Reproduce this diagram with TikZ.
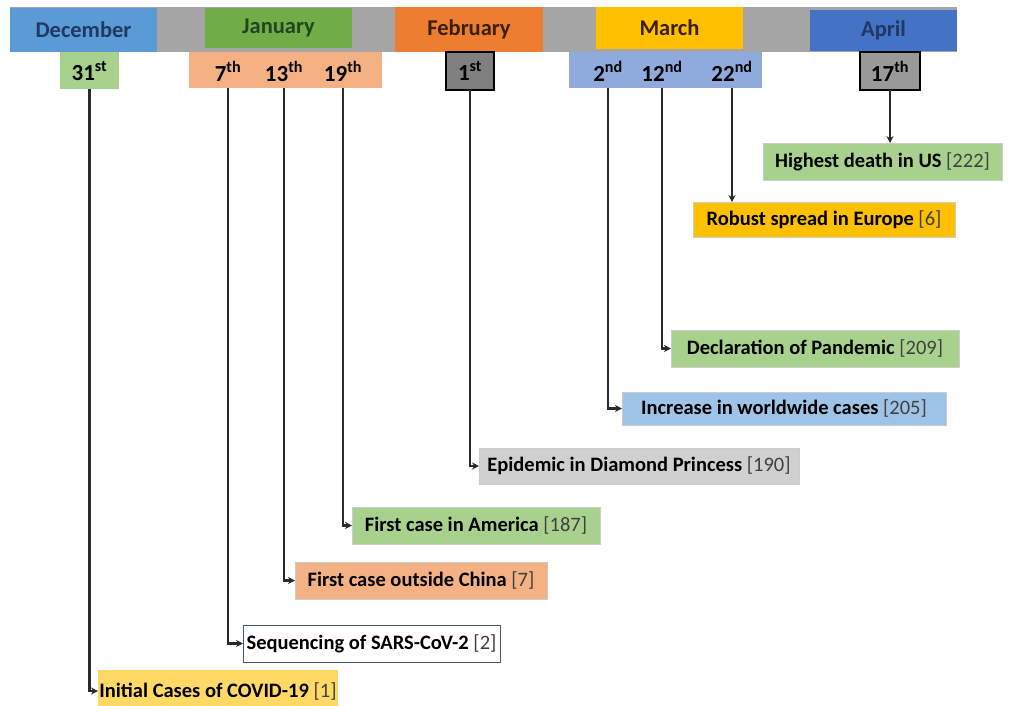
\documentclass[tikz,border=0pt]{standalone}
\usepackage{fontspec}
\setmainfont{Carlito}
\usetikzlibrary{arrows.meta}
\definecolor{decC}{HTML}{5B9BD5}
\definecolor{janC}{HTML}{70AD47}
\definecolor{febC}{HTML}{ED7D31}
\definecolor{marC}{HTML}{FFC000}
\definecolor{aprC}{HTML}{4472C4}
\definecolor{barC}{HTML}{A5A5A5}
\definecolor{lgreen}{HTML}{A9D18E}
\definecolor{salmon}{HTML}{F4B183}
\definecolor{lblue}{HTML}{8FAADC}
\definecolor{sky}{HTML}{9DC3E6}
\definecolor{lgray}{HTML}{D0D0D0}
\definecolor{lyellow}{HTML}{FFD966}
\definecolor{navy}{HTML}{1F3864}
\definecolor{dgreen}{HTML}{1E4620}
\definecolor{dbrown}{HTML}{3B200B}
\definecolor{linkC}{HTML}{2A2A2A}
\definecolor{slate}{HTML}{44546A}
\newcommand{\pbox}[7]{\node[#6, minimum width={#4-#2}, minimum height={#5-#3}] (#1) at ({(#2+#4)/2},{(#3+#5)/2}) {#7};}
\newcommand{\rf}[1]{{\mdseries\color{black!75}[#1]}}
\begin{document}
\begin{tikzpicture}[x=1pt,y=-1pt,
  base/.style={inner sep=0pt, outer sep=0pt, rectangle},
  month/.style={base, font=\bfseries\fontsize{22.5}{26}\selectfont},
  day/.style={base},
  datetxt/.style={inner sep=0pt, outer sep=0pt, font=\bfseries\fontsize{23}{26}\selectfont},
  event/.style={base, font=\bfseries\fontsize{20.5}{24}\selectfont, draw=black!20, line width=0.5pt},
  link/.style={draw=linkC, line width=2.2pt, -{Stealth[length=7pt,width=7pt]}}]
\useasboundingbox (0,0) rectangle (1016,705);
% gray bar
\pbox{bar}{10}{7}{957}{52}{base, fill=barC}{}
% months
\pbox{dec}{10}{8}{157}{52}{month, fill=decC, text=navy}{December}
\pbox{jan}{205}{8}{352}{48}{month, fill=janC, text=dgreen}{January}
\pbox{feb}{395}{7}{543}{52}{month, fill=febC, text=dbrown}{February}
\pbox{mar}{596}{7}{743}{49}{month, fill=marC, text=dbrown}{March}
\pbox{apr}{810}{10}{957}{51}{month, fill=aprC, text=navy}{April}
% day boxes
\pbox{decd}{60}{52}{119}{89}{day, fill=lgreen}{}
\node[datetxt] (d31) at (89.5,71) {31\textsuperscript{st}};
\pbox{jand}{189}{52}{382}{88}{day, fill=salmon}{}
\node[datetxt] (d7) at (228,71) {7\textsuperscript{th}};
\node[datetxt] (d13) at (284,71) {13\textsuperscript{th}};
\node[datetxt] (d19) at (343,71) {19\textsuperscript{th}};
\pbox{febd}{446}{52}{494}{90}{day, fill=black!50, draw=black, line width=1.2pt}{}
\node[datetxt] (d1) at (470,71) {1\textsuperscript{st}};
\pbox{mard}{569}{52}{762}{88}{day, fill=lblue}{}
\node[datetxt] (d2) at (608,71) {2\textsuperscript{nd}};
\node[datetxt] (d12) at (662,71) {12\textsuperscript{nd}};
\node[datetxt] (d22) at (732,71) {22\textsuperscript{nd}};
\pbox{aprd}{860}{52}{920}{90}{day, fill=black!40, draw=black, line width=1.2pt}{}
\node[datetxt] (d17) at (890,71) {17\textsuperscript{th}};
% events
\pbox{e222}{763}{143}{1002}{180}{event, fill=lgreen}{Highest death in US \rf{222}}
\pbox{e6}{693}{202}{955}{237}{event, fill=marC}{Robust spread in Europe \rf{6}}
\pbox{e209}{671}{330}{959}{367}{event, fill=lgreen}{Declaration of Pandemic \rf{209}}
\pbox{e205}{622}{392}{946}{425}{event, fill=sky}{Increase in worldwide cases \rf{205}}
\pbox{e190}{479}{448}{799}{484}{event, fill=lgray}{Epidemic in Diamond Princess \rf{190}}
\pbox{e187}{352}{507}{600}{544}{event, fill=lgreen}{First case in America \rf{187}}
\pbox{e7}{295}{562}{547}{599}{event, fill=salmon}{First case outside China \rf{7}}
\pbox{e2}{243}{625}{500}{662}{event, fill=white, draw=slate, line width=1pt}{Sequencing of SARS-CoV-2 \rf{2}}
\pbox{e1}{98}{670}{338}{712}{event, fill=lyellow, draw=none}{Initial Cases of COVID-19 \rf{1}}
% connectors
\draw[link] (aprd.south) -- (aprd.south |- e222.north);
\draw[link] (d22 |- mard.south) -- (d22 |- e6.north);
\draw[link] (d12 |- mard.south) |- (e209.west);
\draw[link] (d2 |- mard.south) |- (e205.west);
\draw[link] (febd.south) |- (e190.west);
\draw[link] (d19 |- jand.south) |- (e187.west);
\draw[link] (d13 |- jand.south) |- (e7.west);
\draw[link] (d7 |- jand.south) |- (e2.west);
\draw[link] (d31 |- decd.south) |- (e1.west);
\end{tikzpicture}
\end{document}
